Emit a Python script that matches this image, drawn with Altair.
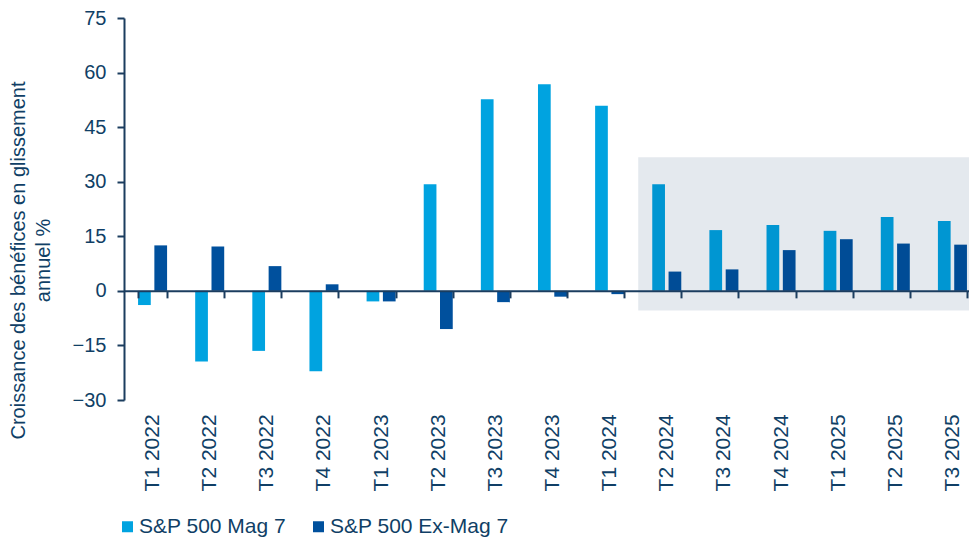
import altair as alt
import pandas as pd

quarters = ["T1 2022", "T2 2022", "T3 2022", "T4 2022", "T1 2023", "T2 2023", "T3 2023",
            "T4 2023", "T1 2024", "T2 2024", "T3 2024", "T4 2024", "T1 2025", "T2 2025", "T3 2025"]
series = ["S&P 500 Mag 7", "S&P 500 Ex-Mag 7"]
mag7 = [-3.9, -19.4, -16.5, -22.1, -2.9, 29.3, 52.7, 56.8, 50.9, 29.3, 16.7, 18.1, 16.5, 20.3, 19.2]
exmag7 = [12.5, 12.2, 6.8, 1.8, -2.9, -10.5, -3.1, -1.6, -0.9, 5.3, 5.9, 11.2, 14.2, 13.0, 12.7]
colors = ["#00a3e0", "#00509d"]

# shaded forecast zone (band-index units on x, percent on y)
shade_x = [9.0]
shade_x2 = [14.84]
shade_y = [36.7]
shade_y2 = [-5.4]

W, H = 857, 382
YMIN, YMAX = -30, 75
zero_offset = -H * (0 - YMIN) / (YMAX - YMIN)

TXT = "#103f66"
AX = "#1b3d5f"
FONT = "Liberation Sans"

rows = []
for q, a, b in zip(quarters, mag7, exmag7):
    rows.append({"quarter": q, "series": series[0], "value": a})
    rows.append({"quarter": q, "series": series[1], "value": b})
df = pd.DataFrame(rows)

shade = pd.DataFrame({"x": shade_x, "x2": shade_x2, "value": shade_y, "y2": shade_y2})

yscale = alt.Scale(domain=[YMIN, YMAX], nice=False, zero=False)
yaxis = alt.Axis(values=[-30, -15, 0, 15, 30, 45, 60, 75], grid=False,
                 tickSize=7, tickWidth=2, domainWidth=2, domainColor=AX, tickColor=AX,
                 labelPadding=11, labelFontSize=20, labelColor=TXT, labelFont=FONT,
                 title=["Croissance des bénéfices en glissement", "annuel %"],
                 titleFontSize=20, titleFontWeight="normal", titleColor=TXT,
                 titleFont=FONT, titleAngle=-90, titleAlign="center",
                 titleBaseline="top", titleX=-116, titleY=242, titleLineHeight=25)

bars = alt.Chart(df).mark_bar().encode(
    x=alt.X("quarter:N", sort=quarters,
            scale=alt.Scale(paddingInner=0.492, paddingOuter=0.246),
            axis=alt.Axis(title=None, offset=zero_offset, labelAngle=-90,
                          labelAlign="right", labelBaseline="middle",
                          labelPadding=116, tickSize=7, tickWidth=2, tickBand="extent",
                          domainColor=AX, domainWidth=2, tickColor=AX,
                          labelColor=TXT, labelFontSize=21, labelFont=FONT, zindex=1)),
    xOffset=alt.XOffset("series:N", sort=series, scale=alt.Scale(paddingInner=0.22)),
    y=alt.Y("value:Q", scale=yscale, axis=yaxis),
    color=alt.Color("series:N", sort=series, scale=alt.Scale(domain=series, range=colors),
                    legend=alt.Legend(title=None, orient="none", legendX=-7, legendY=498,
                                      direction="horizontal", symbolType="square",
                                      symbolSize=121, symbolStrokeWidth=0, labelFontSize=21,
                                      labelColor=TXT, labelFont=FONT, labelOffset=1,
                                      labelLimit=400, columnPadding=21)),
)

rect = alt.Chart(shade).mark_rect(color="#00305f", opacity=0.106).encode(
    x=alt.X("x:Q", scale=alt.Scale(domain=[0, 15], nice=False, zero=False), axis=None),
    x2="x2:Q",
    y=alt.Y("value:Q", scale=yscale, axis=yaxis),
    y2="y2:Q",
)

chart = alt.layer(bars, rect).resolve_scale(x="independent").properties(
    width=W, height=H,
    autosize=alt.AutoSizeParams(type="none"),
    padding={"left": 116, "top": 10, "right": -12, "bottom": 140},
    background="white",
).configure_view(stroke=None)

chart.save("out.html", embed_options={"renderer": "svg", "actions": False})
